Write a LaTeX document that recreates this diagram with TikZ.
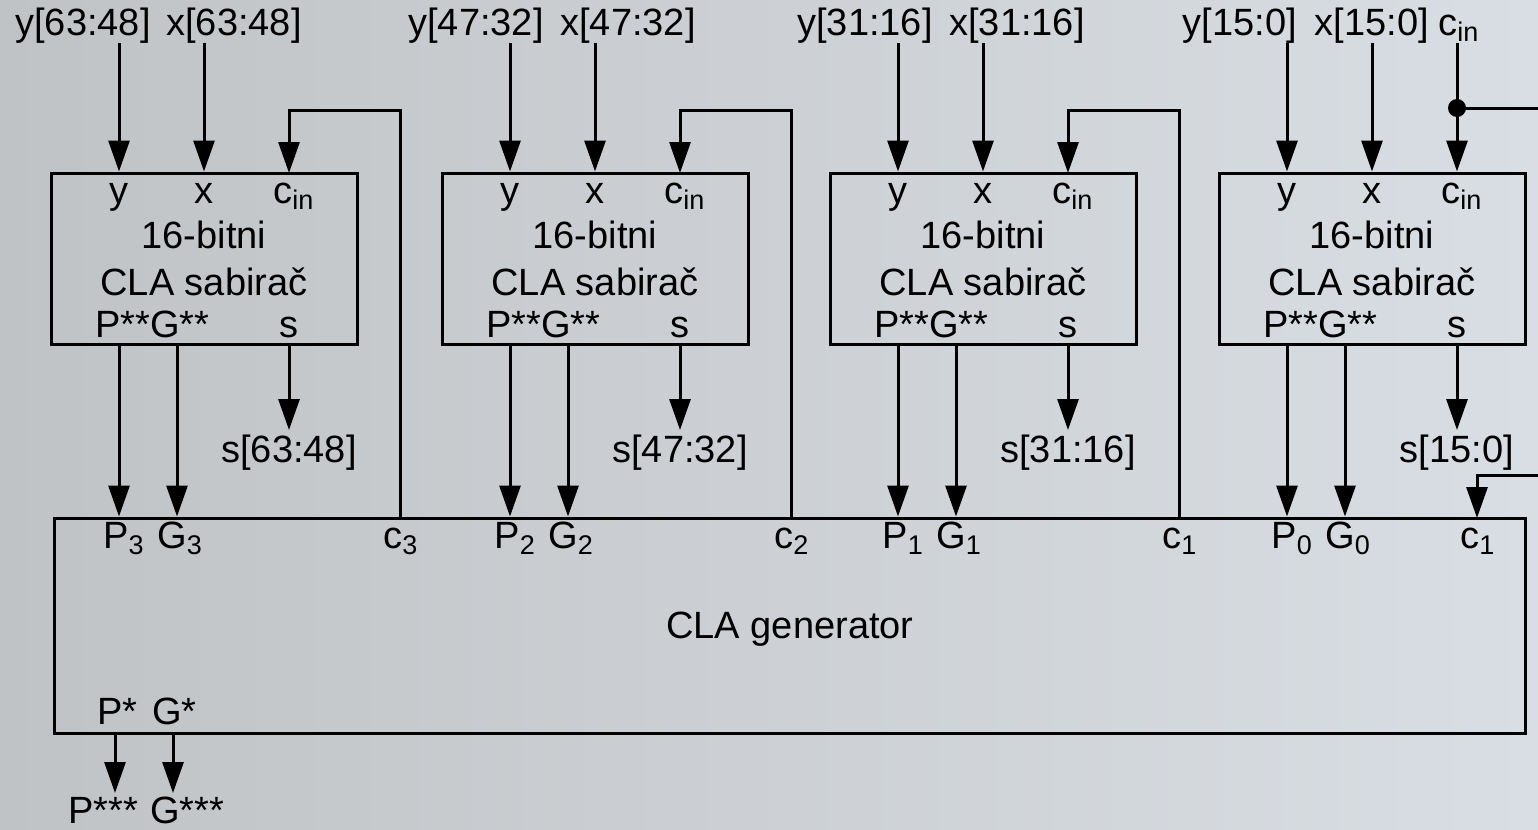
\documentclass[tikz,border=0pt]{standalone}
\usepackage{fontspec}
\setmainfont{Liberation Sans}
\usetikzlibrary{arrows.meta,calc}
\definecolor{bgleft}{RGB}{192,195,197}
\definecolor{bgright}{RGB}{217,222,228}
\newcommand{\sbs}[1]{\raisebox{-0.17em}{\fontsize{13.5}{14}\selectfont #1}}
\tikzset{
  wire/.style={line width=1.5pt},
  arr/.style={wire,-{Triangle[width=10.5pt,length=15.5pt]}},
  blk/.style={draw,line width=1.5pt,rectangle,inner sep=0pt},
  lbl/.style={font=\fontsize{19}{22}\selectfont,inner sep=0pt,anchor=base},
  lblw/.style={lbl,anchor=base west},
}
\begin{document}
\begin{tikzpicture}[x=0.5pt,y=-0.5pt]
\fill[left color=bgleft,right color=bgright] (0,0) rectangle (1538,830);
\useasboundingbox (0,0) rectangle (1538,830);

% CLA generator
\node[blk,minimum width=735.5pt,minimum height=107.5pt] (gen) at (789.5,625.5) {};
\node[lbl] (gentxt) at (790,638) {CLA generator};

% adders
\foreach \i/\L/\p in {1/51/3,2/442/2,3/830/1,4/1219/0}{
  \node[blk,minimum width=153pt,minimum height=85.5pt] (A\i) at (\L+153,258.5) {};
  \node[lbl] (ay\i) at (\L+68,203) {y};
  \node[lbl] (ax\i) at (\L+153,203) {x};
  \node[lblw] (ac\i) at (\L+222,203) {c\sbs{in}};
  \node[lbl] (at\i) at (\L+153,248) {16-bitni};
  \node[lbl] (an\i) at (\L+153,295) {CLA sabirač};
  \node[lblw] (apg\i) at (\L+44,337) {P**G**};
  \node[lbl] (as\i) at (\L+238,337) {s};
  % inputs
  \coordinate (yin\i) at (\L+68,43);
  \coordinate (xin\i) at (\L+153,43);
  \draw[arr] (yin\i) -- (yin\i |- A\i.north);
  \draw[arr] (xin\i) -- (xin\i |- A\i.north);
  % outputs
  \coordinate (Po\i) at (\L+68,344);
  \coordinate (Go\i) at (\L+126,344);
  \coordinate (so\i) at (\L+238,344);
  \coordinate (se\i) at (\L+238,430);
  \draw[arr] (Po\i) -- (Po\i |- gen.north);
  \draw[arr] (Go\i) -- (Go\i |- gen.north);
  \draw[arr] (so\i) -- (se\i);
  \node[lblw] (gP\i) at (\L+52,548) {P\sbs{\p}};
  \node[lblw] (gG\i) at (\L+106,548) {G\sbs{\p}};
}

% sum labels
\node[lbl] (s1) at (289,462) {s[63:48]};
\node[lbl] (s2) at (680,462) {s[47:32]};
\node[lbl] (s3) at (1068,462) {s[31:16]};
\node[lbl] (s4) at (1457,462) {s[15:0]};

% top labels
\node[lbl] (ty1) at (83,35) {y[63:48]};
\node[lbl] (tx1) at (234,35) {x[63:48]};
\node[lbl] (ty2) at (476,35) {y[47:32]};
\node[lbl] (tx2) at (628,35) {x[47:32]};
\node[lbl] (ty3) at (865,35) {y[31:16]};
\node[lbl] (tx3) at (1017,35) {x[31:16]};
\node[lbl] (ty4) at (1240,35) {y[15:0]};
\node[lbl] (tx4) at (1372,35) {x[15:0]};
\node[lblw] (tcin) at (1438,35) {c\sbs{in}};

% carry feedback
\foreach \i/\L/\c in {1/51/3,2/442/2,3/830/1}{
  \coordinate (fb\i) at (\L+349,518);
  \coordinate (ci\i) at (\L+238,173);
  \draw[arr] (fb\i) -- ++(0,-408) -| (ci\i);
  \node[lblw] (gc\i) at (\L+332,548) {c\sbs{\c}};
}

% c_in of last adder
\coordinate (cin4) at (1457,43);
\node[circle,fill,inner sep=0pt,minimum size=9pt] (dot) at (1457,108) {};
\coordinate (cinR) at (1538,108);
\draw[arr] (cin4) -- (cin4 |- A4.north);
\draw[wire] (dot.center) -- (cinR);

% c1 into generator
\coordinate (c1R) at (1538,475);
\coordinate (c1in) at (1477,518);
\draw[arr] (c1R) -| (c1in);
\node[lblw] (gc4) at (1460,548) {c\sbs{1}};

% P* G*
\node[lblw] (Ps) at (97,724) {P*};
\node[lblw] (Gs) at (152,724) {G*};
\coordinate (Pso) at (115,733);
\coordinate (Gso) at (173,733);
\coordinate (Pse) at (115,793);
\coordinate (Gse) at (173,793);
\draw[arr] (Pso) -- (Pse);
\draw[arr] (Gso) -- (Gse);
\node[lblw] (Psss) at (68,823) {P***};
\node[lblw] (Gsss) at (150,823) {G***};
\end{tikzpicture}
\end{document}
